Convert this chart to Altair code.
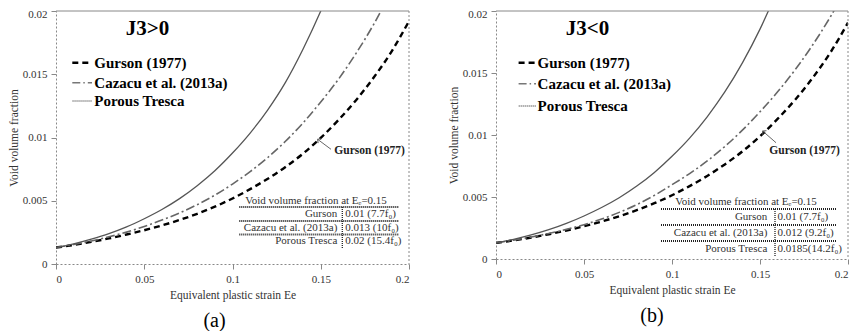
import altair as alt
import pandas as pd

FONT = "Liberation Serif, Times New Roman, Times, DejaVu Serif, serif"

# ---------------- data ----------------
strain = [0.00, 0.01, 0.02, 0.03, 0.04, 0.05, 0.06, 0.07, 0.08, 0.09, 0.10,
          0.11, 0.12, 0.13, 0.14, 0.15, 0.16, 0.17, 0.18, 0.19, 0.20]

# panel (a) J3>0
gurson_a = [0.00130, 0.00151, 0.00175, 0.00202, 0.00233, 0.00267, 0.00305, 0.00348,
            0.00397, 0.00453, 0.00518, 0.00592, 0.00674, 0.00767, 0.00873, 0.00997,
            0.01138, 0.01295, 0.01474, 0.01677, 0.01920]
cazacu_a = [0.00130, 0.00154, 0.00182, 0.00215, 0.00252, 0.00297, 0.00347, 0.00404,
            0.00469, 0.00544, 0.00632, 0.00730, 0.00842, 0.00970, 0.01116, 0.01281,
            0.01460, 0.01665, 0.01895, 0.02157]
tresca_a = [0.00130, 0.00160, 0.00197, 0.00240, 0.00293, 0.00358, 0.00431, 0.00517,
            0.00619, 0.00737, 0.00877, 0.01035, 0.01219, 0.01436, 0.01700, 0.02000,
            0.02340]

# panel (b) J3<0
gurson_b = [0.00130, 0.00150, 0.00173, 0.00200, 0.00230, 0.00264, 0.00302, 0.00345,
            0.00394, 0.00450, 0.00514, 0.00588, 0.00670, 0.00763, 0.00868, 0.00990,
            0.01130, 0.01285, 0.01462, 0.01665, 0.01906]
cazacu_b = [0.00130, 0.00152, 0.00177, 0.00206, 0.00239, 0.00277, 0.00322, 0.00376,
            0.00439, 0.00513, 0.00599, 0.00689, 0.00791, 0.00907, 0.01039, 0.01187,
            0.01348, 0.01527, 0.01728, 0.01953, 0.02207]
tresca_b = [0.00130, 0.00159, 0.00194, 0.00236, 0.00287, 0.00347, 0.00415, 0.00494,
            0.00588, 0.00698, 0.00828, 0.00975, 0.01147, 0.01347, 0.01582, 0.01854,
            0.02170]

x_ticks = [0, 0.05, 0.1, 0.15, 0.2]
y_ticks = [0, 0.005, 0.01, 0.015, 0.02]

legend_labels = ["Gurson (1977)", "Cazacu et al. (2013a)", "Porous Tresca"]
panel_titles = ["J3>0", "J3<0"]
panel_tags = ["(a)", "(b)"]
table_heading = "Void volume fraction at Eₑ=0.15"
table_models = ["Gurson", "Cazacu et al. (2013a)", "Porous Tresca"]
table_values_a = ["0.01 (7.7f₀)", "0.013 (10f₀)", "0.02 (15.4f₀)"]
table_values_b = ["0.01 (7.7f₀)", "0.012 (9.2f₀)", "0.0185(14.2f₀)"]
annotation_text = "Gurson (1977)"
x_title = "Equivalent plastic strain Ee"
y_title = "Void volume fraction"

# ---------------- styles / layout ----------------
STYLES = [
    dict(color="#000000", strokeWidth=2.4, strokeDash=[6, 4]),      # Gurson
    dict(color="#666666", strokeWidth=1.6, strokeDash=[9, 3, 2, 3]),  # Cazacu
    dict(color="#555555", strokeWidth=1.3),                           # Tresca
]

LAY_A = dict(W=353, H=253, tag_dx=-18, title_xy=(91.6, 18.3),
             leg_x=(16.3, 36, 38.3), leg_y=[51.7, 71.7, 90],
             tab_x=(183.3, 343.3), tab_head=(260, 190), tab_lines=[196, 210, 223.5],
             tab_rows=[203, 217, 230], tab_label_right=281.3, tab_div=286.3,
             tab_div_y=(196, 237), tab_val_left=289.3,
             arrow_tip=(261.6, 128.3), arrow_tail=(275, 138.3), arrow_angle=307,
             ann_xy=(278.3, 140))
LAY_B = dict(W=352, H=248, tag_dx=-20, title_xy=(91.6, 18.3),
             leg_x=(22.6, 40, 41.6), leg_y=[51.7, 72.7, 95],
             tab_x=(165, 340), tab_head=(250, 191), tab_lines=[198, 214, 230],
             tab_rows=[206, 222, 238], tab_label_right=271.3, tab_div=279,
             tab_div_y=(198, 246), tab_val_left=281.6,
             arrow_tip=(266.6, 120), arrow_tail=(280, 131.7), arrow_angle=311,
             ann_xy=(273.3, 140))

one = alt.Data(values=[{"k": 1}])

axis_common = dict(labelFont=FONT, labelFontSize=11, labelColor="#333333",
                   titleFont=FONT, titleFontSize=11.5, titleFontWeight="normal",
                   titleColor="#333333", domainColor="#888888", domainDash=[2, 2],
                   tickColor="#888888", tickSize=5, grid=False, labelPadding=4)

x_enc = alt.X("x:Q", scale=alt.Scale(domain=[0, 0.2], nice=False, zero=False),
              axis=alt.Axis(values=x_ticks, format="~g", title=x_title,
                            titlePadding=5, **axis_common))
y_enc = alt.Y("f:Q", scale=alt.Scale(domain=[0, 0.02], nice=False),
              axis=alt.Axis(values=y_ticks, format="~g", title=y_title,
                            titlePadding=3,
                            labelOffset={"condition": {"test": "datum.value >= 0.0199", "value": 3.5},
                                         "value": 0},
                            **axis_common))


def build(series, lay, title_txt, tag, values):
    layers = []
    for xs_vals, style in zip(series, STYLES):
        df = pd.DataFrame({"x": strain[:len(xs_vals)], "f": xs_vals})
        layers.append(alt.Chart(df).mark_line(clip=True, interpolate="monotone", **style)
                      .encode(x=x_enc, y=y_enc))
    W, H = lay["W"], lay["H"]
    # top (solid) and right (dotted) frame lines
    layers.append(alt.Chart(one).mark_rule(color="#888888", strokeWidth=1)
                  .encode(x=alt.value(0), x2=alt.value(W), y=alt.value(0)))
    layers.append(alt.Chart(one).mark_rule(color="#888888", strokeWidth=1, strokeDash=[2, 2])
                  .encode(x=alt.value(W), y=alt.value(0), y2=alt.value(H)))
    # panel heading
    layers.append(alt.Chart(one).mark_text(text=title_txt, font=FONT, fontSize=21,
                                           fontWeight="bold", color="black",
                                           align="center", baseline="middle")
                  .encode(x=alt.value(lay["title_xy"][0]), y=alt.value(lay["title_xy"][1])))
    # legend
    x0, x1, xt = lay["leg_x"]
    leg_styles = [STYLES[0],
                  dict(color="#777777", strokeWidth=1.4, strokeDash=[8, 3, 1.5, 3]),
                  dict(color="#666666", strokeWidth=1.2, strokeDash=[1.5, 0.5])]
    for lbl, ly, style in zip(legend_labels, lay["leg_y"], leg_styles):
        layers.append(alt.Chart(one).mark_rule(**style)
                      .encode(x=alt.value(x0), x2=alt.value(x1), y=alt.value(ly)))
        layers.append(alt.Chart(one).mark_text(text=lbl, font=FONT, fontSize=15,
                                               fontWeight="bold", color="black",
                                               align="left", baseline="middle")
                      .encode(x=alt.value(xt), y=alt.value(ly)))
    # annotation arrow
    tx, ty = lay["arrow_tip"]
    sx, sy = lay["arrow_tail"]
    layers.append(alt.Chart(one).mark_rule(color="#555555", strokeWidth=0.9)
                  .encode(x=alt.value(sx), y=alt.value(sy), x2=alt.value(tx), y2=alt.value(ty)))
    layers.append(alt.Chart(one).mark_point(shape="M -1 1 L 0 0 L 1 1", filled=False,
                                            color="#555555", strokeWidth=0.9, size=30,
                                            angle=lay["arrow_angle"], opacity=1)
                  .encode(x=alt.value(tx), y=alt.value(ty)))
    layers.append(alt.Chart(one).mark_text(text=annotation_text, font=FONT, fontSize=11.5,
                                           fontWeight="bold", color="#222222",
                                           align="left", baseline="middle")
                  .encode(x=alt.value(lay["ann_xy"][0]), y=alt.value(lay["ann_xy"][1])))
    # table
    hx, hy = lay["tab_head"]
    layers.append(alt.Chart(one).mark_text(text=table_heading, font=FONT, fontSize=11,
                                           color="#333333", align="center", baseline="middle")
                  .encode(x=alt.value(hx), y=alt.value(hy)))
    lx0, lx1 = lay["tab_x"]
    for yy in lay["tab_lines"]:
        layers.append(alt.Chart(one).mark_rule(color="#222222", strokeWidth=2,
                                               strokeDash=[1, 1])
                      .encode(x=alt.value(lx0), x2=alt.value(lx1), y=alt.value(yy)))
    dy0, dy1 = lay["tab_div_y"]
    layers.append(alt.Chart(one).mark_rule(color="#222222", strokeWidth=1.3, strokeDash=[1, 1])
                  .encode(x=alt.value(lay["tab_div"]), y=alt.value(dy0), y2=alt.value(dy1)))
    for m, v, yy in zip(table_models, values, lay["tab_rows"]):
        layers.append(alt.Chart(one).mark_text(text=m, font=FONT, fontSize=11,
                                               color="#333333", align="right", baseline="middle")
                      .encode(x=alt.value(lay["tab_label_right"]), y=alt.value(yy)))
        layers.append(alt.Chart(one).mark_text(text=v, font=FONT, fontSize=11,
                                               color="#333333", align="left", baseline="middle")
                      .encode(x=alt.value(lay["tab_val_left"]), y=alt.value(yy)))
    return alt.layer(*layers).properties(
        width=W, height=H,
        title=alt.TitleParams(text=tag, orient="bottom", font=FONT, fontSize=20,
                              fontWeight="normal", color="black", offset=10,
                              anchor="middle", dx=lay["tag_dx"]))


pa = build([gurson_a, cazacu_a, tresca_a], LAY_A, panel_titles[0], panel_tags[0], table_values_a)
pb = build([gurson_b, cazacu_b, tresca_b], LAY_B, panel_titles[1], panel_tags[1], table_values_b)

chart = (alt.hconcat(pa, pb, spacing=87, bounds="flush")
         .properties(padding={"left": 0, "top": 0, "right": 0, "bottom": 0},
                     background="white")
         .configure_view(stroke=None))

chart.save("out.html", embed_options={"renderer": "svg", "actions": False})
